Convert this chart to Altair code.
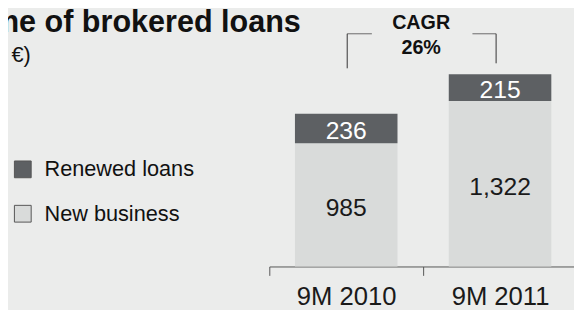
import altair as alt
import pandas as pd

# ---- data ----
periods = ["9M 2010", "9M 2011"]
new_business = [985, 1322]
renewed = [236, 215]
series_names = ["Renewed loans", "New business"]
series_colors = ["#5d6063", "#d9dbda"]
label_colors = {"Renewed loans": "#ffffff", "New business": "#1a1a1a"}

title_text = "Volume of brokered loans"
subtitle_text = "(in millions €)"
cagr_lines = ["CAGR", "26%"]
cagr_y = [1900, 1702]
bracket_top = 1860
bracket_bottom = [1584, 1624]

FONT = "Liberation Sans"

rows = []
for i, p in enumerate(periods):
    rows.append({"period": p, "series": "New business", "value": new_business[i], "ord": 0})
    rows.append({"period": p, "series": "Renewed loans", "value": renewed[i], "ord": 1})
df = pd.DataFrame(rows)
df["tc"] = df["series"].map(label_colors)

x_enc = alt.X(
    "period:N",
    sort=periods,
    scale=alt.Scale(range=[0, 312], paddingInner=0, paddingOuter=0),
    axis=alt.Axis(
        title=None, labelAngle=0, domainColor="#555555", tickColor="#555555",
        tickSize=9, tickBand="extent", labelFontSize=26, labelFont=FONT,
        labelColor="#1a1a1a", labelPadding=9, grid=False,
    ),
)
y_scale = alt.Scale(domain=[0, 1600])

bars = alt.Chart(df).mark_bar(width=alt.RelativeBandSize(104 / 156)).encode(
    x=x_enc,
    y=alt.Y("value:Q", stack="zero", scale=y_scale, axis=None),
    color=alt.Color(
        "series:N",
        scale=alt.Scale(domain=series_names, range=series_colors),
        legend=alt.Legend(
            title=None, orient="none", legendX=-261, legendY=93.5,
            symbolType="square", symbolSize=289, symbolStrokeColor="#555555",
            symbolStrokeWidth=1, labelFontSize=22, labelFont=FONT,
            labelColor="#111111", rowPadding=23, labelOffset=11, padding=0,
        ),
    ),
    order=alt.Order("ord:Q"),
)

labels = alt.Chart(df).transform_stack(
    stack="value", groupby=["period"], as_=["y0", "y1"], sort=[alt.SortField("ord")]
).transform_calculate(
    mid="(datum.y0 + datum.y1) / 2"
).mark_text(fontSize=25, font=FONT, baseline="alphabetic", dy=11).encode(
    x=alt.X("period:N", sort=periods),
    y=alt.Y("mid:Q"),
    text=alt.Text("value:Q", format=",d"),
    color=alt.Color("tc:N", scale=None),
)

left_df = pd.DataFrame({"period": [periods[0]], "top": [bracket_top], "bot": [bracket_bottom[0]]})
right_df = pd.DataFrame({"period": [periods[1]], "top": [bracket_top], "bot": [bracket_bottom[1]]})

left_v = alt.Chart(left_df).mark_rule(color="#333333", strokeWidth=1, xOffset=1).encode(
    x=alt.X("period:N", sort=periods), y="top:Q", y2="bot:Q")
right_v = alt.Chart(right_df).mark_rule(color="#333333", strokeWidth=1, xOffset=-4).encode(
    x=alt.X("period:N", sort=periods), y="top:Q", y2="bot:Q")
left_h = alt.Chart(left_df).mark_tick(orient="horizontal", size=25, thickness=1,
                                      color="#333333", xOffset=13.5).encode(
    x=alt.X("period:N", sort=periods), y="top:Q")
right_h = alt.Chart(right_df).mark_tick(orient="horizontal", size=24, thickness=1,
                                        color="#333333", xOffset=-16).encode(
    x=alt.X("period:N", sort=periods), y="top:Q")

cagr_df = pd.DataFrame({"period": [periods[0]] * 2, "t": cagr_lines, "y": cagr_y})
cagr = alt.Chart(cagr_df).mark_text(
    fontSize=20, fontWeight="bold", font=FONT, color="#111111",
    baseline="alphabetic", xOffset=76,
).encode(x=alt.X("period:N", sort=periods), y="y:Q", text="t:N")

title = alt.Chart(pd.DataFrame({"t": [title_text]})).mark_text(
    align="right", baseline="alphabetic", fontSize=31, fontWeight="bold",
    font=FONT, color="#111111",
).encode(x=alt.value(32), y=alt.value(-35), text="t:N")

subtitle = alt.Chart(pd.DataFrame({"t": [subtitle_text]})).mark_text(
    align="right", baseline="alphabetic", fontSize=22, font=FONT, color="#111111",
).encode(x=alt.value(-242), y=alt.value(-4), text="t:N")

chart = alt.layer(
    bars, labels, left_v, right_v, left_h, right_h, cagr, title, subtitle
).properties(
    width=309, height=203,
    padding={"left": 265, "top": 57, "right": 0, "bottom": 42},
    autosize=alt.AutoSizeParams(type="none"),
    background="#ebeceb",
).configure_view(stroke=None)

chart.save("out.html", embed_options={"renderer": "svg", "actions": False})
